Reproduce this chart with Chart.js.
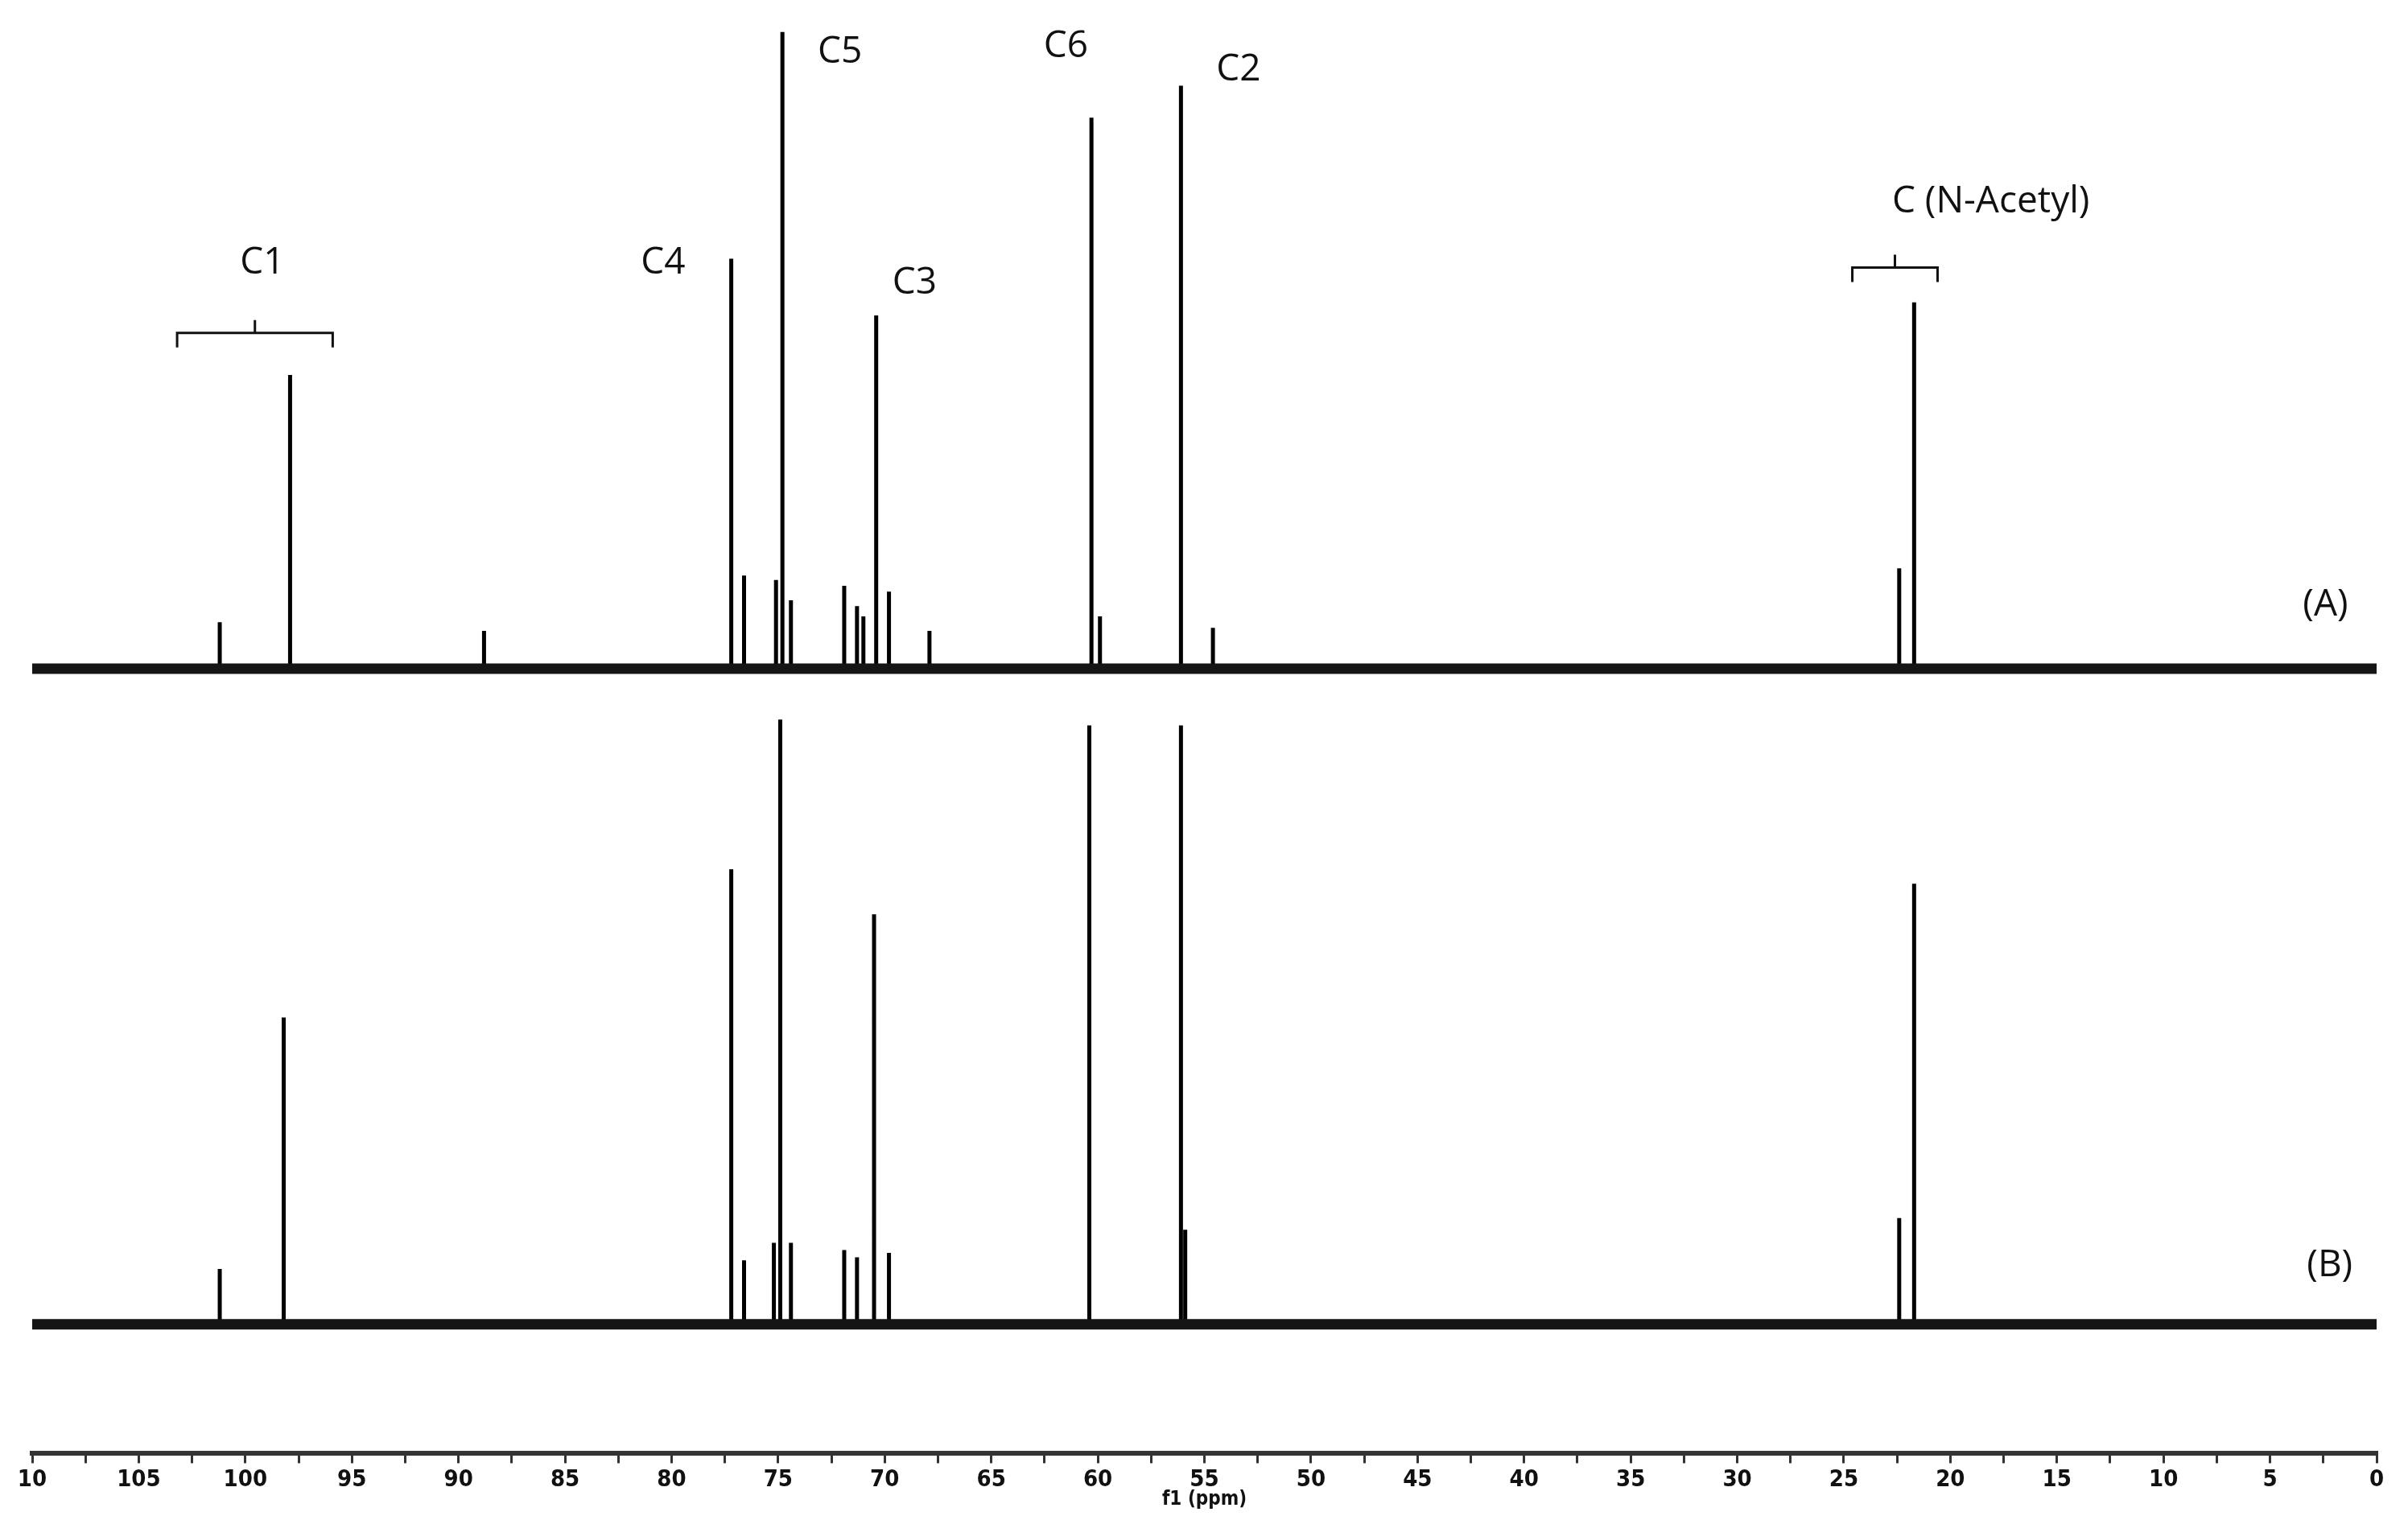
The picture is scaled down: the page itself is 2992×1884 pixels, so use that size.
<!DOCTYPE html>
<html><head><meta charset="utf-8">
<script src="https://cdn.jsdelivr.net/npm/chart.js@4/dist/chart.umd.min.js"></script>
<style>html,body{margin:0;padding:0;background:#fff}</style>
</head><body>
<canvas id="c" width="2992" height="1884"></canvas>
<script>
const baseA = 54.0, baseB = 8.9;
const peaksA_ppm = [101.2, 97.9, 88.8, 77.2, 76.6, 75.1, 74.8, 74.4, 71.9, 71.3, 71.0, 70.4, 69.8, 67.9, 60.3, 59.9, 56.1, 54.6, 22.4, 21.7];
const peaksA_h   = [3.2, 20.2, 2.6, 28.2, 6.4, 6.1, 43.8, 4.7, 5.7, 4.3, 3.6, 24.3, 5.3, 2.6, 37.9, 3.6, 40.1, 2.8, 6.9, 25.2];
const peaksB_ppm = [101.2, 98.2, 77.2, 76.6, 75.2, 74.9, 74.4, 71.9, 71.3, 70.5, 69.8, 60.4, 56.1, 55.9, 22.4, 21.7];
const peaksB_h   = [3.8, 21.1, 31.3, 4.4, 5.6, 41.6, 5.6, 5.1, 4.6, 28.2, 4.9, 41.2, 41.2, 6.5, 7.3, 30.3];
const labels = ['C1','C4','C5','C6','C2','C3','C (N-Acetyl)','(A)','(B)'];
const labelPpm = [99.2, 80.4, 72.1, 61.5, 53.4, 68.6, 18.1, 2.4, 2.2];
const labelY = [81.9, 81.9, 96.4, 96.8, 95.2, 80.5, 86.1, 58.4, 12.9];
const brackets = [[103.2, 95.9, 77.1], [24.6, 20.6, 81.6]];

function sticks(ppm, h, base){
  const d=[];
  ppm.forEach((p,i)=>{d.push({x:p,y:base});d.push({x:p,y:base+h[i]});d.push({x:p,y:base});});
  return d;
}
const annot = {
  id:'annot',
  afterDatasetsDraw(chart){
    const {ctx, scales:{x,y}} = chart;
    ctx.save();
    ctx.fillStyle='#111';ctx.font='46px "Open Sans"';ctx.textAlign='center';ctx.textBaseline='middle';
    labels.forEach((t,i)=>ctx.fillText(t, x.getPixelForValue(labelPpm[i]), y.getPixelForValue(labelY[i])));
    ctx.strokeStyle='#111';ctx.lineWidth=3;
    brackets.forEach(([a,b,v])=>{
      const xa=x.getPixelForValue(a), xb=x.getPixelForValue(b), yy=y.getPixelForValue(v), xm=(xa+xb)/2;
      ctx.beginPath();
      ctx.moveTo(xa,yy+18);ctx.lineTo(xa,yy);ctx.lineTo(xb,yy);ctx.lineTo(xb,yy+18);
      ctx.moveTo(xm,yy);ctx.lineTo(xm,yy-16);
      ctx.stroke();
    });
    ctx.restore();
  }
};
new Chart(document.getElementById('c'), {
  type:'scatter',
  data:{datasets:[
    {data:[{x:110,y:baseA},{x:0,y:baseA}], showLine:true, borderColor:'#151515', borderWidth:13, pointRadius:0},
    {data:[{x:110,y:baseB},{x:0,y:baseB}], showLine:true, borderColor:'#151515', borderWidth:13, pointRadius:0},
    {data:sticks(peaksA_ppm,peaksA_h,baseA), showLine:true, borderColor:'#000', borderWidth:5, pointRadius:0},
    {data:sticks(peaksB_ppm,peaksB_h,baseB), showLine:true, borderColor:'#000', borderWidth:5, pointRadius:0}
  ]},
  options:{
    responsive:false, devicePixelRatio:1, animation:false,
    layout:{padding:{left:40,right:39,top:0,bottom:6}},
    plugins:{legend:{display:false},tooltip:{enabled:false}},
    scales:{
      x:{type:'linear',min:0,max:110,reverse:true,
        border:{display:true,color:'#333',width:6},
        grid:{drawOnChartArea:false,color:'#333',lineWidth:3,tickLength:12},
        ticks:{stepSize:2.5,autoSkip:false,maxRotation:0,padding:4,color:'#111',font:{family:'DejaVu Sans Condensed',weight:'bold',size:29},
          callback:v=>v%5===0?(v===110?'10':String(v)):''},
        title:{display:true,text:'f1 (ppm)',color:'#111',font:{family:'DejaVu Sans Condensed',weight:'bold',size:24},padding:{top:-12,bottom:0}}},
      y:{display:false,min:0,max:100}
    }
  },
  plugins:[annot]
});
</script>
</body></html>
